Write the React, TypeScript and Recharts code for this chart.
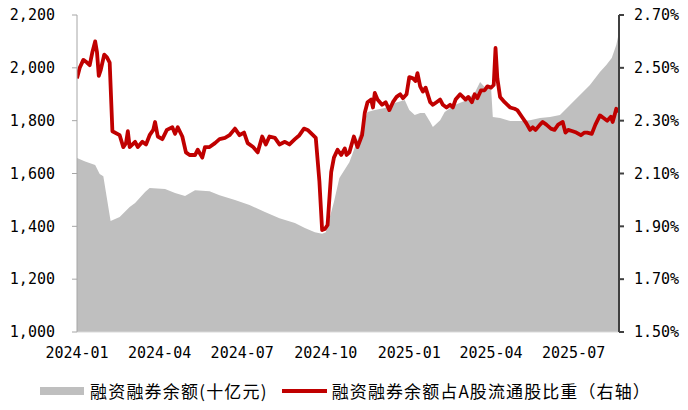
import React from "react"
import { ComposedChart, Area, Line, XAxis, YAxis, Legend } from "recharts"

// days counted from 2024-01-01
const balanceDays = [
  0, 9, 20, 25, 29, 37, 47, 58, 64, 75, 80, 97, 108, 119, 130, 146, 157, 174, 190, 207, 223, 240,
  251, 262, 270, 274, 283, 289, 300, 311, 320, 328, 339, 350, 361, 366, 372, 378, 383, 389, 392,
  400, 405, 416, 427, 438, 444, 449, 456, 458, 466, 477, 488, 499, 510, 521, 532, 543, 554, 565,
  576, 583, 589, 594, 597,
]
// 融资融券余额, 十亿元
const balanceValues = [
  1659, 1645, 1632, 1598, 1590, 1420, 1435, 1473, 1488, 1530, 1545, 1541, 1526, 1515, 1537, 1533,
  1518, 1500, 1481, 1454, 1431, 1413, 1394, 1378, 1372, 1378, 1492, 1583, 1643, 1746, 1833, 1840,
  1848, 1867, 1878, 1840, 1821, 1829, 1829, 1795, 1776, 1802, 1833, 1859, 1874, 1905, 1946, 1927,
  1930, 1814, 1810, 1799, 1799, 1802, 1810, 1814, 1821, 1859, 1897, 1935, 1984, 2011, 2037, 2086,
  2135,
]

const ratioDays = [
  0, 3, 7, 11, 14, 17, 20, 22, 24, 26, 30, 33, 36, 39, 47, 51, 54, 56, 58, 64, 67, 72, 76, 80, 84,
  86, 89, 94, 99, 105, 108, 111, 116, 120, 124, 130, 133, 138, 141, 146, 152, 157, 163, 168, 174,
  179, 184, 188, 194, 199, 204, 208, 212, 218, 223, 229, 234, 240, 245, 250, 254, 260, 263, 267,
  270, 273, 276, 280, 283, 287, 291, 295, 297, 300, 305, 309, 314, 317, 320, 324, 326, 328, 331,
  336, 340, 344, 348, 352, 356, 359, 363, 366, 370, 373, 375, 378, 381, 384, 389, 392, 396, 400,
  403, 407, 411, 414, 417, 422, 425, 428, 431, 435, 438, 441, 445, 449, 452, 456, 459, 461, 463,
  466, 471, 477, 482, 485, 490, 495, 499, 502, 505, 510, 513, 517, 522, 526, 530, 535, 538, 541,
  546, 550, 555, 559, 562, 567, 571, 576, 580, 584, 588, 590, 592, 594, 597,
]
// 融资融券余额占A股流通股比重, %
const ratioValues = [
  2.46, 2.5, 2.53, 2.52, 2.51, 2.56, 2.6, 2.56, 2.47, 2.49, 2.55, 2.54, 2.52, 2.26, 2.245, 2.2,
  2.215, 2.26, 2.2, 2.22, 2.2, 2.22, 2.21, 2.245, 2.265, 2.295, 2.24, 2.23, 2.265, 2.275, 2.25,
  2.275, 2.24, 2.18, 2.17, 2.17, 2.19, 2.16, 2.2, 2.2, 2.215, 2.23, 2.235, 2.245, 2.27, 2.245,
  2.255, 2.215, 2.2, 2.18, 2.24, 2.21, 2.24, 2.235, 2.21, 2.22, 2.21, 2.23, 2.245, 2.27, 2.265,
  2.245, 2.235, 2.07, 1.886, 1.89, 1.905, 2.105, 2.16, 2.19, 2.17, 2.195, 2.17, 2.18, 2.24, 2.2,
  2.245, 2.33, 2.37, 2.38, 2.35, 2.405, 2.38, 2.36, 2.37, 2.34, 2.37, 2.39, 2.4, 2.385, 2.4, 2.465,
  2.46, 2.45, 2.48, 2.43, 2.41, 2.425, 2.37, 2.36, 2.37, 2.38, 2.36, 2.35, 2.36, 2.35, 2.38, 2.4,
  2.39, 2.38, 2.39, 2.37, 2.4, 2.385, 2.415, 2.415, 2.43, 2.425, 2.435, 2.575, 2.46, 2.39, 2.37,
  2.35, 2.345, 2.34, 2.315, 2.29, 2.265, 2.275, 2.265, 2.285, 2.295, 2.285, 2.27, 2.265, 2.285,
  2.295, 2.255, 2.265, 2.26, 2.255, 2.245, 2.255, 2.255, 2.25, 2.285, 2.32, 2.31, 2.3, 2.315,
  2.295, 2.32, 2.345, 2.335,
]

const xTickDays = [0, 91, 182, 274, 366, 456, 547]
const xTickLabels = ["2024-01", "2024-04", "2024-07", "2024-10", "2025-01", "2025-04", "2025-07"]
const leftTicks = [1000, 1200, 1400, 1600, 1800, 2000, 2200]
const rightTicks = [1.5, 1.7, 1.9, 2.1, 2.3, 2.5, 2.7]

const balanceName = "融资融券余额(十亿元)"
const ratioName = "融资融券余额占A股流通股比重（右轴）"

const balanceData = balanceDays.map((day, i) => ({ day, balance: balanceValues[i] }))
const ratioData = ratioDays.map((day, i) => ({ day, ratio: ratioValues[i] }))

const tickFont = { fill: "#000", fontSize: 15, fontFamily: "DejaVu Sans Mono" }
const cjkFont = "'Noto Sans CJK SC', sans-serif"

function ChartLegend() {
  return (
    <div
      style={{
        display: "flex",
        alignItems: "center",
        height: 43,
        paddingLeft: 40,
        paddingTop: 4,
        boxSizing: "border-box",
        fontFamily: cjkFont,
        fontSize: 17,
        color: "#000",
      }}
    >
      <span style={{ display: "inline-block", width: 44, height: 8, background: "#BFBFBF", marginRight: 6 }} />
      <span style={{ marginRight: 14, letterSpacing: 1.2 }}>{balanceName}</span>
      <span style={{ display: "inline-block", width: 45, height: 4, background: "#C00000", marginRight: 5 }} />
      <span style={{ letterSpacing: 1.1 }}>{ratioName}</span>
    </div>
  )
}

export default function App() {
  return (
    <div style={{ position: "absolute", left: 0, top: 0, width: 688, height: 410, background: "#fff" }}>
      <ComposedChart width={688} height={410} margin={{ top: 15, right: 0, left: 0, bottom: 0 }}>
        <XAxis
          dataKey="day"
          type="number"
          domain={[0, 597]}
          ticks={xTickDays}
          tickFormatter={(d) => xTickLabels[xTickDays.indexOf(d)] ?? ""}
          allowDataOverflow
          axisLine={{ stroke: "#D9D9D9" }}
          tickLine={false}
          tickMargin={9}
          tick={tickFont}
          height={35}
          interval={0}
        />
        <YAxis
          yAxisId="left"
          domain={[1000, 2200]}
          ticks={leftTicks}
          tickFormatter={(v) => v.toLocaleString("en-US")}
          axisLine={{ stroke: "#A6A6A6" }}
          tickLine={{ stroke: "#A6A6A6" }}
          tickSize={5}
          tickMargin={17}
          tick={tickFont}
          width={77}
          interval={0}
        />
        <YAxis
          yAxisId="right"
          orientation="right"
          domain={[1.5, 2.7]}
          ticks={rightTicks}
          tickFormatter={(v) => `${v.toFixed(2)}%`}
          axisLine={{ stroke: "#404040", strokeWidth: 2 }}
          tickLine={{ stroke: "#404040", strokeWidth: 2 }}
          tickSize={5}
          tickMargin={10}
          tick={tickFont}
          width={69}
          interval={0}
        />
        <Legend verticalAlign="bottom" content={() => <ChartLegend />} />
        <Area
          yAxisId="left"
          data={balanceData}
          dataKey="balance"
          name={balanceName}
          type="linear"
          stroke="none"
          fill="#BFBFBF"
          fillOpacity={1}
          baseValue={1000}
          isAnimationActive={false}
        />
        <Line
          yAxisId="right"
          data={ratioData}
          dataKey="ratio"
          name={ratioName}
          type="linear"
          stroke="#C00000"
          strokeWidth={3.8}
          strokeLinejoin="round"
          dot={false}
          activeDot={false}
          isAnimationActive={false}
        />
      </ComposedChart>
    </div>
  )
}
